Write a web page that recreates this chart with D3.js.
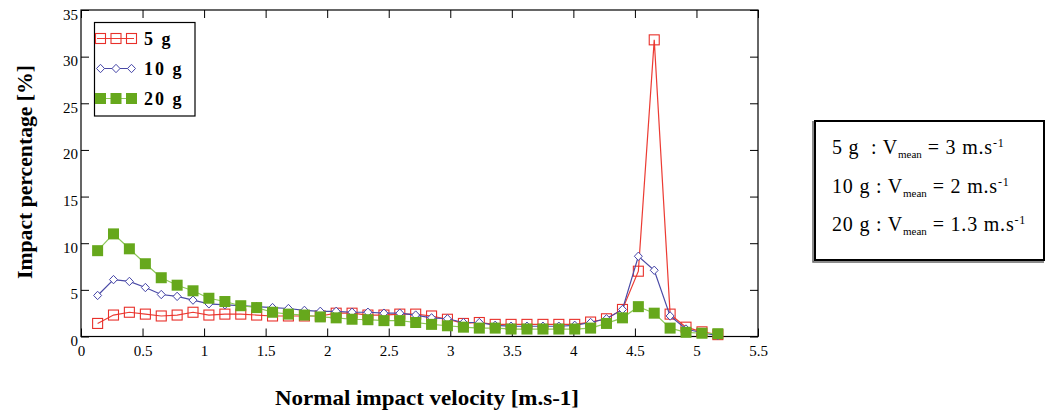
<!DOCTYPE html>
<html>
<head>
<meta charset="utf-8">
<script src="https://cdn.jsdelivr.net/npm/d3@7"></script>
<style>
  body { margin: 0; background: #fff; }
  svg { display: block; }
</style>
</head>
<body>
<svg id="chart"></svg>
<script>
// velocity bins [m/s]
var velocities = [0.135, 0.264, 0.393, 0.523, 0.652, 0.781, 0.910, 1.039, 1.169, 1.298,
                  1.427, 1.556, 1.685, 1.815, 1.944, 2.073, 2.202, 2.331, 2.461, 2.590,
                  2.719, 2.848, 2.977, 3.107, 3.236, 3.365, 3.494, 3.623, 3.753, 3.882,
                  4.011, 4.140, 4.269, 4.399, 4.528, 4.657, 4.786, 4.915, 5.045, 5.174];
var pct5g  = [1.4, 2.3, 2.6, 2.4, 2.2, 2.3, 2.6, 2.3, 2.4, 2.4,
              2.3, 2.2, 2.2, 2.2, 2.2, 2.5, 2.5, 2.3, 2.3, 2.4,
              2.4, 2.2, 1.85, 1.4, 1.5, 1.3, 1.3, 1.3, 1.3, 1.3,
              1.3, 1.55, 1.9, 2.9, 7.0, 31.8, 2.4, 1.0, 0.5, 0.2];
var pct10g = [4.4, 6.1, 5.9, 5.25, 4.5, 4.3, 3.9, 3.5, 3.4, 3.3,
              3.2, 3.1, 3.0, 2.8, 2.7, 2.7, 2.6, 2.6, 2.5, 2.5,
              2.3, 2.0, 1.9, 1.5, 1.5, 1.2, 1.1, 1.1, 1.1, 1.1,
              1.2, 1.5, 1.9, 2.9, 8.6, 7.1, 2.2, 0.8, 0.4, 0.1];
var pct20g = [9.2, 11.0, 9.4, 7.8, 6.3, 5.5, 4.9, 4.1, 3.75, 3.3,
              3.1, 2.6, 2.4, 2.3, 2.1, 2.0, 1.85, 1.8, 1.7, 1.7,
              1.5, 1.3, 1.15, 1.0, 0.9, 0.9, 0.8, 0.8, 0.8, 0.8,
              0.8, 0.9, 1.4, 2.0, 3.2, 2.5, 0.9, 0.45, 0.35, 0.3];
var seriesNames = ["5 g", "10 g", "20 g"];
var xTicks = [0, 0.5, 1, 1.5, 2, 2.5, 3, 3.5, 4, 4.5, 5, 5.5];
var yTicks = [0, 5, 10, 15, 20, 25, 30, 35];
var meanLines = [["5 g  : V", "mean", " = 3 m.s", "-1"],
                 ["10 g : V", "mean", " = 2 m.s", "-1"],
                 ["20 g : V", "mean", " = 1.3 m.s", "-1"]];

const canvasWidth = 1056;
const canvasHeight = 415;
const serif = "'Liberation Serif', 'DejaVu Serif', serif";

var svg = d3.select("#chart")
  .attr("width", canvasWidth)
  .attr("height", canvasHeight)
  .style("font-family", serif);

var x = d3.scaleLinear().domain([0, 5.5]).range([81, 758]);
var y = d3.scaleLinear().domain([0, 35]).range([336.5, 10]);

var series = [
  {name: seriesNames[0], values: pct5g, color: "#e8302a", line: "#ec3b33", marker: "square"},
  {name: seriesNames[1], values: pct10g, color: "#4646a8", line: "#4a4aa6", marker: "diamond"},
  {name: seriesNames[2], values: pct20g, color: "#66a81c", line: "#8cc858", marker: "filled"}
];

// axes, ticks pointing inwards
function styleAxis(g) {
  g.select(".domain").remove();
  g.selectAll(".tick line").attr("stroke", "#000");
  g.selectAll(".tick text").attr("fill", "#000").style("font-family", serif).style("font-size", "15px");
}
svg.append("g").attr("transform", "translate(0,336.5)")
  .call(d3.axisBottom(x).tickValues(xTicks).tickFormat(d => String(d)).tickSizeInner(-8).tickSizeOuter(0).tickPadding(9))
  .call(styleAxis);
svg.append("g").attr("transform", "translate(0,10)")
  .call(d3.axisTop(x).tickValues(xTicks).tickFormat("").tickSizeInner(-8).tickSizeOuter(0))
  .call(styleAxis);
svg.append("g").attr("transform", "translate(81,0)")
  .call(d3.axisLeft(y).tickValues(yTicks).tickFormat(d => String(d)).tickSizeInner(-8).tickSizeOuter(0).tickPadding(3))
  .call(styleAxis)
  .selectAll(".tick text").attr("dy", "0.6em");
svg.append("g").attr("transform", "translate(758,0)")
  .call(d3.axisRight(y).tickValues(yTicks).tickFormat("").tickSizeInner(-8).tickSizeOuter(0))
  .call(styleAxis);

svg.append("rect")
  .attr("x", x(0)).attr("y", y(35))
  .attr("width", x(5.5) - x(0)).attr("height", y(0) - y(35))
  .attr("fill", "none").attr("stroke", "#000").attr("stroke-width", 1.2);

// markers
function drawMarker(g, s, cx, cy) {
  if (s.marker == "square") {
    g.append("rect").attr("x", cx - 5).attr("y", cy - 5).attr("width", 10).attr("height", 10)
      .attr("fill", "none").attr("stroke", s.color).attr("stroke-width", 1.1);
  } else if (s.marker == "diamond") {
    g.append("path").attr("d", `M${cx},${cy - 4.2}L${cx + 4},${cy}L${cx},${cy + 4.2}L${cx - 4},${cy}Z`)
      .attr("fill", "#fff").attr("stroke", s.color).attr("stroke-width", 1);
  } else {
    g.append("rect").attr("x", cx - 5.5).attr("y", cy - 5.5).attr("width", 11).attr("height", 11)
      .attr("fill", s.color);
  }
}

var line = d3.line().x((d, i) => x(velocities[i])).y(d => y(d));
series.forEach(s => {
  var g = svg.append("g");
  g.append("path").attr("d", line(s.values))
    .attr("fill", "none").attr("stroke", s.line).attr("stroke-width", 1.2);
  s.values.forEach((v, i) => drawMarker(g, s, x(velocities[i]), y(v)));
});

// legend
var legend = svg.append("g");
legend.append("rect").attr("x", 94.5).attr("y", 22.5).attr("width", 100.5).attr("height", 93.5)
  .attr("fill", "#fff").attr("stroke", "#000").attr("stroke-width", 1.2);
series.forEach((s, i) => {
  var ly = 38.5 + i * 30;
  legend.append("line").attr("x1", 97).attr("x2", 134).attr("y1", ly).attr("y2", ly)
    .attr("stroke", s.line).attr("stroke-width", 1.2);
  [100.5, 116, 131.5].forEach(cx => drawMarker(legend, s, cx, ly));
  legend.append("text").attr("x", 144).attr("y", ly + 6)
    .style("font-size", "18px").style("font-weight", "bold").style("letter-spacing", "2px")
    .text(s.name);
});

// axis titles
svg.append("text").attr("x", 427).attr("y", 405).attr("text-anchor", "middle")
  .attr("textLength", 304).attr("lengthAdjust", "spacingAndGlyphs")
  .style("font-size", "21px").style("font-weight", "bold")
  .text("Normal impact velocity [m.s-1]");
svg.append("text").attr("transform", "translate(32,172) rotate(-90)").attr("text-anchor", "middle")
  .attr("textLength", 214).attr("lengthAdjust", "spacingAndGlyphs")
  .style("font-size", "20px").style("font-weight", "bold")
  .text("Impact percentage [%]");

// mean velocity box
var box = svg.append("g");
box.append("rect").attr("x", 815).attr("y", 121).attr("width", 229).attr("height", 139)
  .attr("fill", "#fff").attr("stroke", "#000").attr("stroke-width", 2);
box.append("path").attr("d", "M813,121V262H1044")
  .attr("fill", "none").attr("stroke", "#666").attr("stroke-width", 1.5);
meanLines.forEach((m, i) => {
  var t = box.append("text").attr("x", 832).attr("y", 154 + i * 38.5)
    .style("font-size", "20px").style("white-space", "pre").style("letter-spacing", "0.8px");
  t.append("tspan").text(m[0]);
  t.append("tspan").attr("dy", 4).style("font-size", "11px").style("letter-spacing", "0px").text(m[1]);
  t.append("tspan").attr("dy", -4).text(m[2]);
  t.append("tspan").attr("dy", -7).style("font-size", "12px").text(m[3]);
});
</script>
</body>
</html>
